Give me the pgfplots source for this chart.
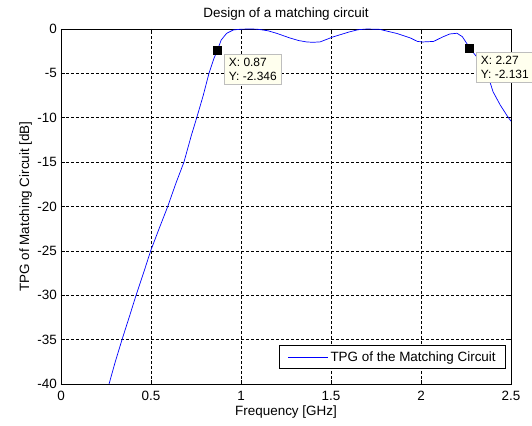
\documentclass[border=0pt]{standalone}
\usepackage{fontspec}
\setmainfont{Liberation Sans}
\usepackage{pgfplots}
\pgfplotsset{compat=1.18}

\definecolor{tipfill}{RGB}{255,255,238}
\definecolor{tipdraw}{RGB}{190,190,190}
\definecolor{curveblue}{RGB}{0,0,255}

\pgfplotstableread{
f      tpg
0.267  -40
0.300  -37.6
0.339  -35
0.380  -32.4
0.417  -30
0.460  -27.4
0.498  -25
0.545  -22.5
0.593  -20
0.638  -17.4
0.683  -15
0.724  -12.0
0.754  -10
0.790  -7.5
0.822  -5
0.850  -3.3
0.870  -2.346
0.890  -1.24
0.920  -0.49
0.957  -0.11
1.000  -0.02
1.050  0
1.090  -0.02
1.150  -0.2
1.200  -0.5
1.270  -1.0
1.320  -1.3
1.365  -1.46
1.400  -1.5
1.440  -1.45
1.510  -0.9
1.600  -0.34
1.650  -0.08
1.700  0
1.770  -0.04
1.865  -0.5
1.940  -1.0
1.980  -1.4
2.010  -1.46
2.070  -1.4
2.120  -0.9
2.160  -0.56
2.200  -0.48
2.230  -0.87
2.270  -2.131
2.300  -2.9
2.335  -3.8
2.365  -4.8
2.400  -7.06
2.440  -8.56
2.476  -9.7
2.500  -10.4
}\tpgdata

\begin{document}
\begin{tikzpicture}
\useasboundingbox (-61bp,-42bp) rectangle (471bp,384bp);
\begin{axis}[
  scale only axis,
  width=450bp, height=355bp,
  xmin=0, xmax=2.5, ymin=-40, ymax=0,
  xtick={0,0.5,1,1.5,2,2.5},
  xticklabels={0,0.5,1,1.5,2,2.5},
  ytick={-40,-35,-30,-25,-20,-15,-10,-5,0},
  yticklabels={-40,-35,-30,-25,-20,-15,-10,-5,0},
  tick align=inside,
  major tick length=4bp,
  tick style={black, line width=0.5bp},
  axis line style={black, line width=0.8bp},
  grid=major,
  major grid style={black, dash pattern=on 3bp off 2bp, line width=0.5bp},
  font=\fontsize{13.5}{16}\selectfont,
  xticklabel style={anchor=base, inner sep=0pt, yshift=-16bp},
  yticklabel style={anchor=east, inner sep=0pt, xshift=-4bp},
  title={Design of a matching circuit},
  title style={at={(axis description cs:0.5,1.0155)}, anchor=base, inner sep=0pt},
  xlabel={Frequency [GHz]},
  xlabel style={at={(axis description cs:0.5,-0.0901)}, anchor=base, inner sep=0pt},
  ylabel={TPG of Matching Circuit [dB]},
  ylabel style={at={(axis description cs:-0.0710,0.5)}, anchor=base, inner sep=0pt},
  legend style={at={(axis description cs:0.9889,0.0423)}, anchor=south east,
    draw=black, line width=0.6bp, inner xsep=8bp, inner ysep=4bp,
    font=\fontsize{13.5}{16}\selectfont},
  legend image code/.code={%
    \draw[draw=curveblue, line width=0.8bp] (0bp,0bp) -- (40bp,0bp);},
  clip mode=individual,
]
\addplot[curveblue, line width=0.7bp] table[x=f, y=tpg] {\tpgdata};
\addlegendentry{TPG of the Matching Circuit}

% data cursors
\addplot[forget plot, only marks, mark=square*, mark size=4bp, black]
  coordinates {(0.87,-2.346) (2.27,-2.131)};

\node[draw=tipdraw, fill=tipfill, line width=0.6bp, anchor=north west,
      inner xsep=5bp, inner ysep=4bp, align=left,
      font=\fontsize{12}{14}\selectfont]
  at ([xshift=6bp,yshift=-4bp]axis cs:0.87,-2.346) {X: 0.87\\Y: -2.346};
\node[draw=tipdraw, fill=tipfill, line width=0.6bp, anchor=north west,
      inner xsep=5bp, inner ysep=4bp, align=left,
      font=\fontsize{12}{14}\selectfont]
  at ([xshift=6bp,yshift=-4bp]axis cs:2.27,-2.131) {X: 2.27\\Y: -2.131};
\end{axis}
\end{tikzpicture}
\end{document}
